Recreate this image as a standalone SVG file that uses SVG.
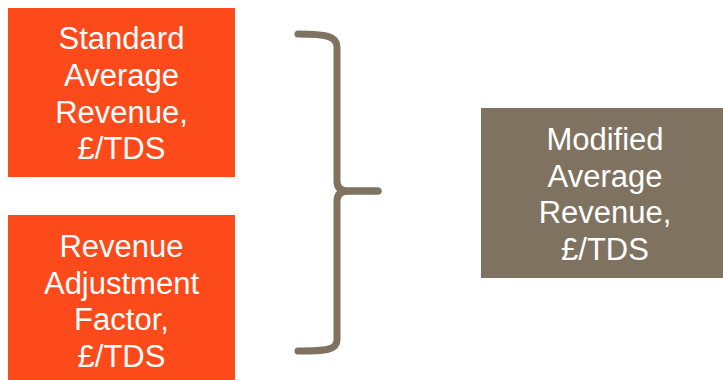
<svg xmlns="http://www.w3.org/2000/svg" width="723" height="380" viewBox="0 0 723 380">
<style>
.t{font-family:"Liberation Sans",Arial,sans-serif;font-size:31px;fill:#ffffff;text-anchor:middle}
.o{fill:#FC4A1A}
.b{fill:#807260}
.br{fill:none;stroke:#807260;stroke-width:7;stroke-linecap:round;stroke-linejoin:round}
</style>
<rect width="723" height="380" fill="#ffffff"/>
<g id="standard">
<rect class="o" x="8" y="8" width="227" height="169"/>
<text class="t" x="121.5" y="49">Standard</text>
<text class="t" x="121.5" y="86">Average</text>
<text class="t" x="121.5" y="122.5">Revenue,</text>
<text class="t" x="121.5" y="159">£/TDS</text>
</g>
<g id="adjustment">
<rect class="o" x="8" y="215" width="227" height="165"/>
<text class="t" x="121.5" y="257">Revenue</text>
<text class="t" x="121.5" y="293.5">Adjustment</text>
<text class="t" x="121.5" y="330">Factor,</text>
<text class="t" x="121.5" y="366.5">£/TDS</text>
</g>
<g id="modified">
<rect class="b" x="481" y="108" width="242" height="170"/>
<text class="t" x="605" y="150">Modified</text>
<text class="t" x="605" y="186.5">Average</text>
<text class="t" x="605" y="223">Revenue,</text>
<text class="t" x="605" y="259.5">£/TDS</text>
</g>
<g id="connectors">
<path class="br" d="M298,34 C326,34 337,36 337,47 L337,181 Q337,191 348,191 L378,191"/>
<path class="br" d="M378,191 L348,191 Q337,191 337,201 L337,340 C337,350 326,351 298,351"/>
</g>
</svg>
